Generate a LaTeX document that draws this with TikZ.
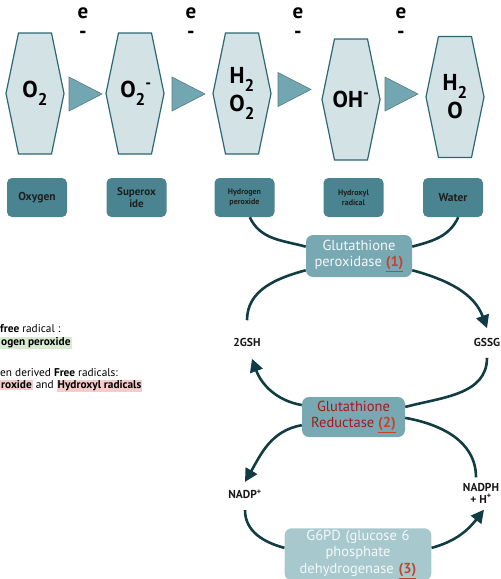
\documentclass[tikz,border=0pt]{standalone}
\usepackage{fontspec}
\setmainfont{PT Sans}
\usetikzlibrary{arrows.meta}
\definecolor{hexfill}{HTML}{D3E2E5}
\definecolor{hexline}{HTML}{2C6773}
\definecolor{trifill}{HTML}{72A6B0}
\definecolor{tagfill}{HTML}{4A8491}
\definecolor{enzfill}{HTML}{78A9B3}
\definecolor{enzlight}{HTML}{A7C9CE}
\definecolor{cycline}{HTML}{123C44}
\definecolor{darkred}{HTML}{A31A1A}
\definecolor{refred}{HTML}{C8432C}
\definecolor{hlgreen}{HTML}{D9EAD3}
\definecolor{hlpink}{HTML}{F4CCCC}
\newcommand{\refno}[1]{\textcolor{refred}{\underline{\textbf{#1}}}}
\newcommand{\lowtwo}{\raisebox{-8pt}{\fontsize{17}{17}\selectfont 2}}
\setlength{\fboxsep}{1pt}

\begin{document}
\begin{tikzpicture}[x=1pt, y=-1pt, >= {Triangle[length=13pt, width=13pt]},
		line width=0.5pt,
		hexa/.style={draw=hexline, fill=hexfill, line width=1.2pt},
		species/.style={font=\bfseries\fontsize{23}{28}\selectfont, align=center},
		tri/.style={draw=trifill!75!black, fill=trifill, line width=0.6pt},
		elec/.style={font=\bfseries\fontsize{21}{20}\selectfont, align=center},
		tag/.style={fill=tagfill, rounded corners=5pt, minimum width=60pt,
			minimum height=39pt, align=center, inner sep=1pt, text=black!88},
		enzyme/.style={fill=enzfill, rounded corners=7pt, align=center,
			text=white!92!enzfill, font=\fontsize{14.5}{16}\selectfont},
		cyc/.style={draw=cycline, line width=2.6pt},
		metab/.style={font=\bfseries\fontsize{11.5}{12}\selectfont, text=black!90},
		note/.style={anchor=west, inner sep=0pt, font=\fontsize{11.3}{12}\selectfont}]
	\path[use as bounding box, clip] (0,0) rectangle (501,579);

	% hexagons and step triangles
	\foreach \x/\y in {35/93.5, 135/93.5, 242/93.5, 351/99.5, 455/97}
		\draw[hexa, shift={(\x,\y)}] (-16.5,-60.5) -- (16.5,-60.5) -- (29,0)
			-- (16.5,60.5) -- (-16.5,60.5) -- (-29,0) -- cycle;
	\foreach \x/\y in {69/94, 172/94, 278/89.5, 385/94}
		\draw[tri, shift={(\x,\y)}] (0,-17) -- (33,0) -- (0,17) -- cycle;

	\node[species] (o2) at (35,93.5) {O\lowtwo};
	\node[species] (sup) at (136,93.5) {O\lowtwo\textsuperscript{-}};
	\node[species] (h2o2) at (242,93.5) {H\lowtwo\\O\lowtwo};
	\node[species] (oh) at (351,99.5) {OH\textsuperscript{-}};
	\node[species] (h2o) at (455,97) {H\lowtwo\\O};

	\node[elec] (e1) at (83,23) {e\\-};
	\node[elec] (e2) at (191,23) {e\\-};
	\node[elec] (e3) at (298,23) {e\\-};
	\node[elec] (e4) at (401,23) {e\\-};

	% names
	\node[tag, font=\bfseries\fontsize{11.5}{11}\selectfont] (oxy) at (37,197.5) {Oxygen};
	\node[tag, font=\bfseries\fontsize{11}{12}\selectfont] (supx) at (136.5,197.5) {Superox\\ide};
	\node[tag, font=\bfseries\fontsize{8}{10}\selectfont] (hp) at (244.5,197.5) {Hydrogen\\peroxide};
	\node[tag, font=\bfseries\fontsize{8}{10}\selectfont] (hr) at (353.5,197.5) {Hydroxyl\\radical};
	\node[tag, font=\bfseries\fontsize{11.5}{11}\selectfont] (water) at (453,197.5) {Water};

	% enzymes
	\node[enzyme, minimum width=106pt, minimum height=42pt] (gpx) at (359,256)
		{Glutathione\\peroxidase \refno{(1)}};
	\node[enzyme, minimum width=103pt, minimum height=40pt, text=darkred] (gr) at (353.5,417)
		{Glutathione\\Reductase \refno{(2)}};
	\node[enzyme, fill=enzlight, text width=140pt, inner ysep=2pt, anchor=north,
		font=\fontsize{14.5}{16.3}\selectfont] (g6pd) at (358,528)
		{G6PD (glucose 6\\phosphate\\dehydrogenase \refno{(3)}};

	\node[metab] (gsh) at (247,342) {2GSH};
	\node[metab] (gssg) at (487,342) {GSSG};
	\node[metab] (nadp) at (245,494) {NADP\textsuperscript{+}};
	\node[metab, align=center] (nadph) at (481,493) {NADPH\\+ H\textsuperscript{+}};

	% cycles
	\draw[cyc] (hp.-75) to[out=-65, in=165] (gpx.170);
	\draw[cyc] (water.-75) to[out=-115, in=15] (gpx.10);
	\draw[cyc] (gpx.195) to[out=195, in=90] ([yshift=14pt]gsh.north);
	\draw[cyc, ->] (gpx.-15) to[out=-15, in=110] ([yshift=6pt]gssg.north);
	\draw[cyc] ([yshift=-8pt]gssg.south) to[out=-90, in=15] (gr.11);
	\draw[cyc, ->] (gr.167) to[out=170, in=-70] ([xshift=5pt, yshift=-9pt]gsh.south);
	\draw[cyc, ->] (gr.-171) to[out=-170, in=60] ([yshift=4pt]nadp.north);
	\draw[cyc] ([xshift=-5pt, yshift=2pt]nadph.north) to[out=90, in=-10] (gr.-1);
	\draw[cyc] ([yshift=-8pt]nadp.south) to[out=-90, in=165] (g6pd.175);
	\draw[cyc, ->] (g6pd.5) to[out=15, in=-128] ([xshift=3pt, yshift=-3pt]nadph.south);

	% notes on the left
	\node[note] (n1) at (0,329) {\textbf{free} radical :};
	\node[note] (n2) at (0,343) {\colorbox{hlgreen}{\textbf{ogen peroxide}}};
	\node[note] (n3) at (0,373) {en derived \textbf{Free} radicals:};
	\node[note] (n4) at (0,386) {\colorbox{hlpink}{\textbf{roxide}} and \colorbox{hlpink}{\textbf{Hydroxyl radicals}}};
\end{tikzpicture}
\end{document}
